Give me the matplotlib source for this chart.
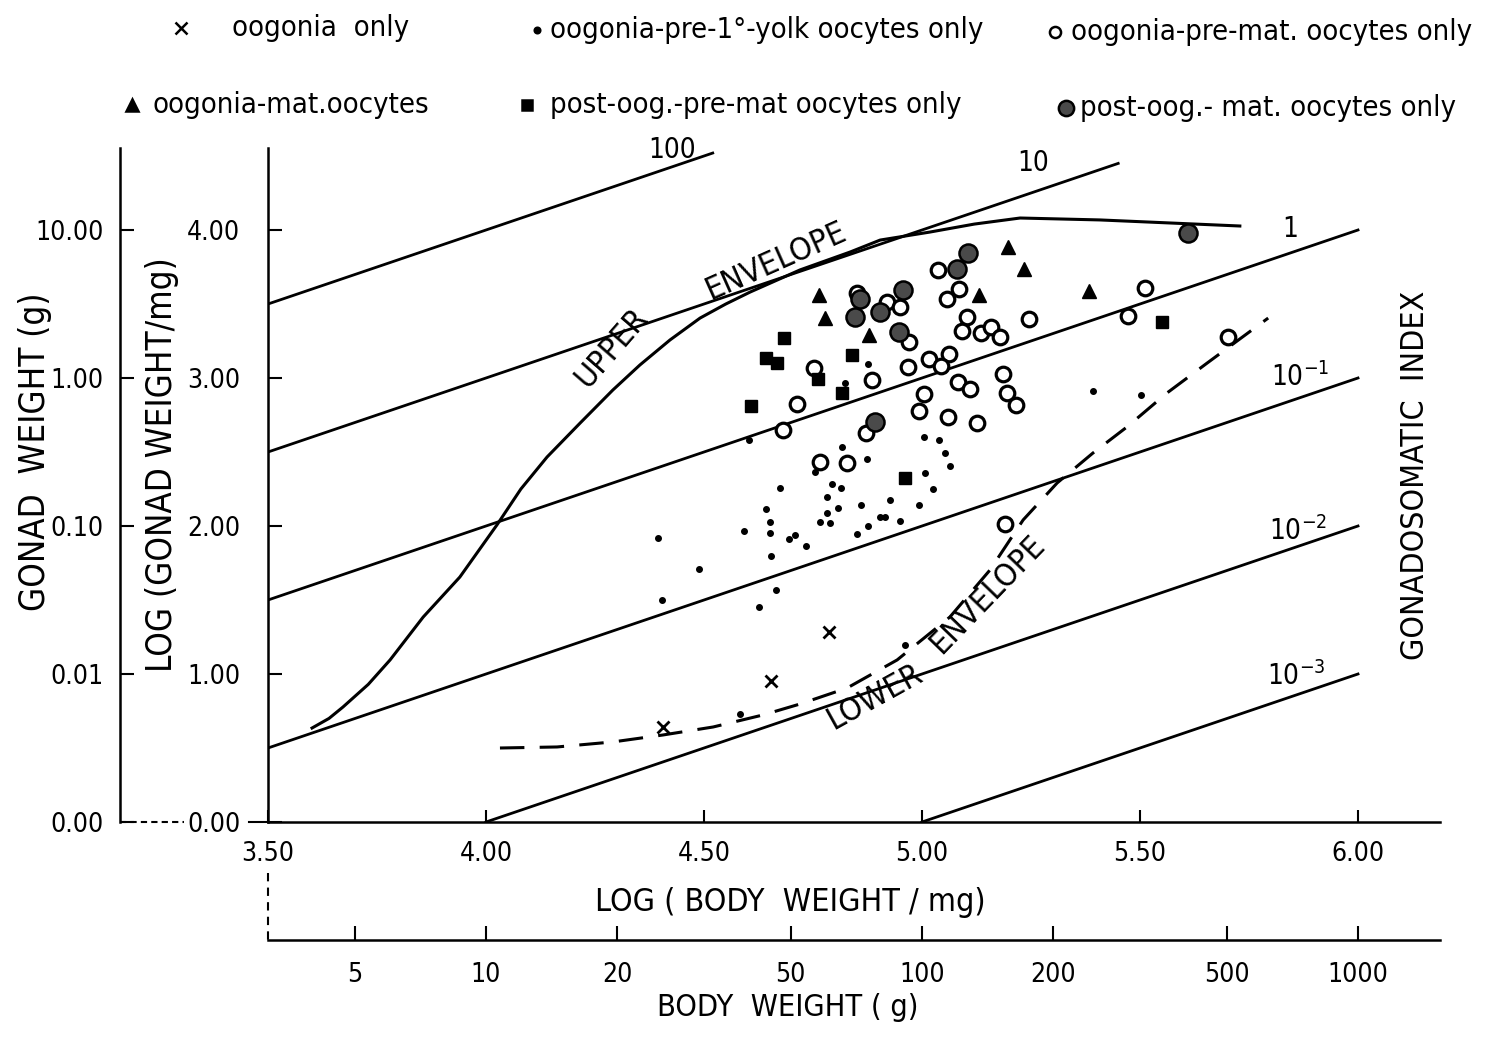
import numpy as np
import matplotlib
matplotlib.use('Agg')
import matplotlib.pyplot as plt
from matplotlib.lines import Line2D

plt.rcParams['font.family'] = 'DejaVu Sans'
plt.rcParams['font.stretch'] = 'condensed'

# all values: x = log(body weight / mg), y = log(gonad weight / mg)

# x  oogonia only
oog_x = [4.406, 4.654, 4.787]
oog_y = [0.642, 0.953, 1.284]

# .  oogonia - pre-1° yolk oocytes only
yolk_x = [4.817, 4.876, 4.823, 4.874, 5.005, 5.039, 5.053, 5.064, 5.007, 5.025,
          4.993, 4.950, 4.927, 4.904, 4.915, 4.876, 4.851, 4.860, 4.807, 4.794,
          4.814, 4.782, 4.782, 4.766, 4.789, 4.674, 4.642, 4.651, 4.651, 4.592,
          4.709, 4.695, 4.734, 4.654, 4.489, 4.394, 4.404, 4.665, 4.626, 4.755,
          4.603, 5.392, 5.502, 4.583, 4.961]
yolk_y = [2.534, 3.095, 2.966, 2.453, 2.601, 2.581, 2.493, 2.405, 2.358, 2.250,
          2.142, 2.034, 2.176, 2.061, 2.061, 2.000, 1.946, 2.142, 2.122, 2.284,
          2.257, 2.196, 2.088, 2.027, 2.020, 2.257, 2.115, 2.027, 1.953, 1.966,
          1.939, 1.912, 1.865, 1.797, 1.709, 1.919, 1.500, 1.568, 1.453, 2.365,
          2.581, 2.912, 2.885, 0.730, 1.196]

# o  oogonia - pre-mat. oocytes only
premat_x = [5.037, 4.851, 4.920, 4.950, 4.970, 4.968, 5.016, 4.885, 4.752, 4.713,
            5.005, 4.993, 4.681, 4.872, 4.766, 4.828, 5.060, 5.085, 5.057, 5.103,
            5.092, 5.135, 5.158, 5.179, 5.245, 5.062, 5.044, 5.186, 5.083, 5.110,
            5.195, 5.216, 5.126, 5.511, 5.472, 5.702, 5.190]
premat_y = [3.730, 3.574, 3.514, 3.480, 3.243, 3.074, 3.128, 2.986, 3.068, 2.824,
            2.892, 2.777, 2.649, 2.628, 2.432, 2.426, 2.736, 3.601, 3.534, 3.412,
            3.318, 3.304, 3.345, 3.277, 3.399, 3.162, 3.081, 3.027, 2.973, 2.926,
            2.899, 2.818, 2.696, 3.608, 3.419, 3.277, 2.014]

# triangle  oogonia - mat. oocytes
mat_x = [4.764, 4.778, 5.197, 5.234, 5.131, 5.383, 4.878]
mat_y = [3.561, 3.405, 3.885, 3.736, 3.561, 3.588, 3.291]

# square  post-oog. - pre-mat oocytes only
postpre_x = [4.683, 4.642, 4.667, 4.761, 4.839, 4.817, 4.608, 4.961, 5.550]
postpre_y = [3.270, 3.135, 3.101, 2.993, 3.155, 2.899, 2.811, 2.324, 3.378]

# stippled circle  post-oog. - mat. oocytes only
postmat_x = [4.858, 4.846, 4.904, 4.956, 4.947, 5.106, 5.080, 5.610, 4.892]
postmat_y = [3.534, 3.412, 3.446, 3.595, 3.311, 3.845, 3.736, 3.980, 2.703]

# envelopes
upper_x = [3.601, 3.640, 3.672, 3.730, 3.780, 3.856, 3.940, 4.025, 4.080, 4.140,
           4.216, 4.291, 4.353, 4.422, 4.491, 4.550, 4.606, 4.720, 4.835, 4.904,
           5.018, 5.120, 5.225, 5.408, 5.729]
upper_y = [0.635, 0.700, 0.777, 0.930, 1.095, 1.385, 1.655, 2.007, 2.250, 2.466,
           2.696, 2.919, 3.088, 3.257, 3.405, 3.500, 3.581, 3.730, 3.851, 3.932,
           3.986, 4.040, 4.081, 4.068, 4.027]
lower_x = [4.032, 4.163, 4.291, 4.406, 4.521, 4.635, 4.720, 4.828, 4.943, 5.064,
           5.156, 5.232, 5.310, 5.392, 5.470, 5.562, 5.654, 5.794]
lower_y = [0.500, 0.507, 0.541, 0.588, 0.642, 0.723, 0.797, 0.905, 1.095, 1.385,
           1.703, 2.041, 2.291, 2.493, 2.669, 2.899, 3.101, 3.405]

# gonadosomatic index lines (%)
gsi_vals = [100, 10, 1, 0.1, 0.01, 0.001]
gsi_x0 = [3.5, 3.5, 3.5, 3.5, 4.0, 5.0]
gsi_x1 = [4.52, 5.45, 6.0, 6.0, 6.0, 6.0]
gsi_labels = ['100', '10', '1', '$10^{-1}$', '$10^{-2}$', '$10^{-3}$']
gsi_lab_x = [4.427, 5.255, 5.844, 5.867, 5.862, 5.858]
gsi_lab_y = [4.486, 4.399, 3.953, 2.946, 1.905, 0.926]

x_ticks = [3.5, 4.0, 4.5, 5.0, 5.5, 6.0]
y_ticks = [0, 1, 2, 3, 4]
gonad_g_labels = ['0.00', '0.01', '0.10', '1.00', '10.00']
body_g = [5, 10, 20, 50, 100, 200, 500, 1000]

W, H = 1500, 1037
fig = plt.figure(figsize=(15, 10.37), dpi=100)
ax = fig.add_axes([268 / W, 1 - 822 / H, (1440 - 268) / W, 674 / H])
ax.set_xlim(3.5, 3.5 + 1172 / 436)
ax.set_ylim(0, 674 / 148)
for s in ['top', 'right']:
    ax.spines[s].set_visible(False)
for s in ['left', 'bottom']:
    ax.spines[s].set_linewidth(1.8)

fs = 19
ax.set_xticks(x_ticks, labels=['%.2f' % v for v in x_ticks])
ax.set_yticks(y_ticks, labels=['%.2f' % v for v in y_ticks])
ax.tick_params(axis='x', direction='in', length=9, width=1.5, pad=14, labelsize=fs)
ax.tick_params(axis='y', direction='in', length=10, width=1.5, pad=20, labelsize=fs)

# outer gonad weight (g) axis
sec = ax.secondary_yaxis(-148 / 1172)
sec.set_yticks(y_ticks, labels=gonad_g_labels)
sec.tick_params(direction='in', length=10, width=1.5, pad=12, labelsize=fs)
sec.spines['left'].set_linewidth(1.8)

# body weight (g) axis
secx = ax.secondary_xaxis(-118 / 674)
secx.set_xticks(3 + np.log10(body_g), labels=[str(v) for v in body_g])
secx.tick_params(direction='in', length=10, width=1.5, pad=16, labelsize=fs)
secx.spines['bottom'].set_linewidth(1.8)

# dashed connectors
ax.plot([-148 / 1172, -0.072], [0, 0], transform=ax.transAxes, ls=(0, (3, 2)),
        color='black', lw=1.5, clip_on=False)
ax.plot([-0.016, 0], [0, 0], transform=ax.transAxes, color='black', lw=1.5, clip_on=False)
ax.plot([0, 0], [-0.075, -118 / 674], transform=ax.transAxes, ls=(0, (4, 3)),
        color='black', lw=1.5, clip_on=False)

# GSI lines
for g, a, b in zip(gsi_vals, gsi_x0, gsi_x1):
    xs = np.array([a, b])
    ax.plot(xs, xs + np.log10(g) - 2, color='black', lw=2.0)
for lab, lx, ly in zip(gsi_labels, gsi_lab_x, gsi_lab_y):
    ax.text(lx, ly, lab, fontsize=20, ha='center', va='baseline', clip_on=False)

# envelopes
ax.plot(upper_x, upper_y, color='black', lw=2.2)
ax.plot(lower_x, lower_y, color='black', lw=2.2, ls=(0, (8, 5)))
efs = 23
ax.text(4.289, 3.203, 'UPPER', rotation=49, fontsize=efs, ha='center', va='center',
        rotation_mode='anchor')
ax.text(4.665, 3.784, 'ENVELOPE', rotation=24, fontsize=efs, ha='center', va='center',
        rotation_mode='anchor')
ax.text(4.892, 0.845, 'LOWER', rotation=29, fontsize=efs, ha='center', va='center',
        rotation_mode='anchor')
ax.text(5.151, 1.534, 'ENVELOPE', rotation=46, fontsize=efs, ha='center', va='center',
        rotation_mode='anchor')

# points
ax.plot(yolk_x, yolk_y, 'o', ms=4, color='black', clip_on=False)
ax.plot(oog_x, oog_y, 'x', ms=8, mew=2, color='black')
ax.plot(premat_x, premat_y, 'o', ms=10.5, mfc='white', mec='black', mew=2.3)
ax.plot(mat_x, mat_y, '^', ms=10, color='black')
ax.plot(postpre_x, postpre_y, 's', ms=8.5, color='black')
ax.plot(postmat_x, postmat_y, 'o', ms=13, mfc='#4a4a4a', mec='black', mew=1.8)

# axis titles
fig.text(35 / W, 1 - 452 / H, 'GONAD  WEIGHT (g)', rotation=90, fontsize=25,
         ha='center', va='center')
fig.text(162 / W, 1 - 465 / H, 'LOG (GONAD WEIGHT/mg)', rotation=90, fontsize=25,
         ha='center', va='center')
fig.text(790 / W, 1 - 902 / H, 'LOG ( BODY  WEIGHT / mg)', fontsize=23,
         ha='center', va='center')
fig.text(788 / W, 1 - 1008 / H, 'BODY  WEIGHT ( g)', fontsize=22,
         ha='center', va='center')
fig.text(1416 / W, 1 - 475 / H, 'GONADOSOMATIC  INDEX', rotation=90, fontsize=23,
         ha='center', va='center')

# legend
leg = [
    ('x', 8, 'black', 181, 28, 'oogonia  only', 232),
    ('o', 4, 'black', 537, 30, 'oogonia-pre-1°-yolk oocytes only', 550),
    ('o', 8, 'white', 1055, 32, 'oogonia-pre-mat. oocytes only', 1071),
    ('^', 9, 'black', 132, 105, 'oogonia-mat.oocytes', 152),
    ('s', 7, 'black', 527, 105, 'post-oog.-pre-mat oocytes only', 550),
    ('o', 11, '#4a4a4a', 1066, 108, 'post-oog.- mat. oocytes only', 1080),
]
for m, ms, fc, mx, my, txt, tx in leg:
    fig.add_artist(Line2D([mx / W], [1 - my / H], marker=m, ms=ms, mfc=fc, mec='black',
                          mew=1.8, ls='none', transform=fig.transFigure))
    fig.text(tx / W, 1 - my / H, txt, fontsize=21, ha='left', va='center')

fig.savefig('out.png', dpi=100)
